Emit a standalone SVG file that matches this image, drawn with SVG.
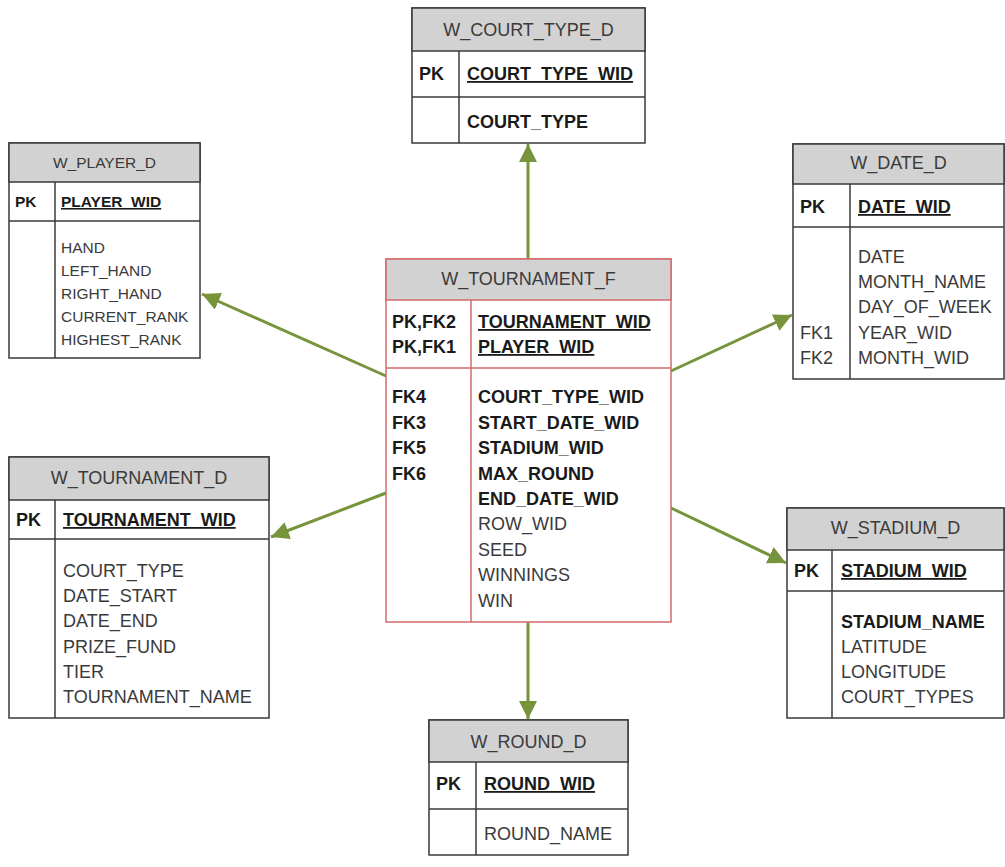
<svg xmlns="http://www.w3.org/2000/svg" width="1005" height="867" viewBox="0 0 1005 867">
<defs>
<style>
.box{fill:#fff;stroke:#3a3a3a;stroke-width:1.5}
.hdr{fill:#d2d2d2;stroke:#3a3a3a;stroke-width:1.5}
.fbox{fill:#fff;stroke:#d46a6a;stroke-width:1.5}
.fhdr{fill:#d2d2d2;stroke:#d46a6a;stroke-width:1.5}
.ln{stroke:#3a3a3a;stroke-width:1.5;fill:none}
.fln{stroke:#d46a6a;stroke-width:1.5;fill:none}
text{font-family:"Liberation Sans",Arial,sans-serif;font-size:18px;fill:#3a3a3a}
.t{text-anchor:middle}
.b{font-weight:bold;fill:#1a1a1a}
.u{text-decoration:underline}
.s{font-size:15.5px}
.conn{stroke:#77933c;stroke-width:3;fill:none}
</style>
<marker id="ah" markerUnits="userSpaceOnUse" markerWidth="20" markerHeight="18" refX="18" refY="9" orient="auto">
<path d="M0,0 L18,9 L0,18 Z" fill="#77933c"/>
</marker>
</defs>

<g id="connectors">
<line class="conn" x1="528" y1="259" x2="528" y2="144" marker-end="url(#ah)"/>
<line class="conn" x1="386" y1="376" x2="202" y2="294" marker-end="url(#ah)"/>
<line class="conn" x1="386" y1="493" x2="271" y2="537" marker-end="url(#ah)"/>
<line class="conn" x1="671" y1="371" x2="792" y2="315" marker-end="url(#ah)"/>
<line class="conn" x1="671" y1="508" x2="786" y2="563" marker-end="url(#ah)"/>
<line class="conn" x1="528" y1="622" x2="528" y2="719" marker-end="url(#ah)"/>
</g>

<g id="w_tournament_f">
<rect class="fbox" x="386" y="259" width="285" height="363"/>
<rect class="fhdr" x="386" y="259" width="285" height="41"/>
<line class="fln" x1="386" y1="368" x2="671" y2="368"/>
<line class="fln" x1="471" y1="300" x2="471" y2="622"/>
<text class="t" x="528.5" y="285">W_TOURNAMENT_F</text>
<text class="b" x="392" y="328">PK,FK2</text>
<text class="b" x="392" y="353">PK,FK1</text>
<text class="b u" x="478" y="328">TOURNAMENT_WID</text>
<text class="b u" x="478" y="353">PLAYER_WID</text>
<text class="b" x="392" y="403">FK4</text>
<text class="b" x="392" y="429">FK3</text>
<text class="b" x="392" y="454">FK5</text>
<text class="b" x="392" y="480">FK6</text>
<text class="b" x="478" y="403">COURT_TYPE_WID</text>
<text class="b" x="478" y="429">START_DATE_WID</text>
<text class="b" x="478" y="454">STADIUM_WID</text>
<text class="b" x="478" y="480">MAX_ROUND</text>
<text class="b" x="478" y="505">END_DATE_WID</text>
<text x="478" y="530">ROW_WID</text>
<text x="478" y="556">SEED</text>
<text x="478" y="581">WINNINGS</text>
<text x="478" y="607">WIN</text>
</g>

<g id="w_court_type_d">
<rect class="box" x="412" y="8" width="233" height="135"/>
<rect class="hdr" x="412" y="8" width="233" height="43"/>
<line class="ln" x1="412" y1="97" x2="645" y2="97"/>
<line class="ln" x1="459" y1="51" x2="459" y2="143"/>
<text class="t" x="528.5" y="36">W_COURT_TYPE_D</text>
<text class="b" x="419" y="80">PK</text>
<text class="b u" x="467" y="80">COURT_TYPE_WID</text>
<text class="b" x="467" y="128">COURT_TYPE</text>
</g>

<g id="w_player_d">
<rect class="box" x="9" y="143" width="191" height="215"/>
<rect class="hdr" x="9" y="143" width="191" height="39"/>
<line class="ln" x1="9" y1="221" x2="200" y2="221"/>
<line class="ln" x1="55" y1="182" x2="55" y2="358"/>
<text class="t s" x="104.5" y="168">W_PLAYER_D</text>
<text class="b s" x="15" y="207">PK</text>
<text class="b u s" x="61" y="207">PLAYER_WID</text>
<text class="s" x="61" y="253">HAND</text>
<text class="s" x="61" y="276">LEFT_HAND</text>
<text class="s" x="61" y="299">RIGHT_HAND</text>
<text class="s" x="61" y="322">CURRENT_RANK</text>
<text class="s" x="61" y="345">HIGHEST_RANK</text>
</g>

<g id="w_date_d">
<rect class="box" x="793" y="144" width="211" height="235"/>
<rect class="hdr" x="793" y="144" width="211" height="40"/>
<line class="ln" x1="793" y1="227" x2="1004" y2="227"/>
<line class="ln" x1="850" y1="184" x2="850" y2="379"/>
<text class="t" x="898.5" y="169">W_DATE_D</text>
<text class="b" x="800" y="213">PK</text>
<text class="b u" x="858" y="213">DATE_WID</text>
<text x="858" y="263">DATE</text>
<text x="858" y="288">MONTH_NAME</text>
<text x="858" y="313">DAY_OF_WEEK</text>
<text x="800" y="339">FK1</text>
<text x="858" y="339">YEAR_WID</text>
<text x="800" y="364">FK2</text>
<text x="858" y="364">MONTH_WID</text>
</g>

<g id="w_tournament_d">
<rect class="box" x="9" y="457" width="260" height="261"/>
<rect class="hdr" x="9" y="457" width="260" height="43"/>
<line class="ln" x1="9" y1="539" x2="269" y2="539"/>
<line class="ln" x1="55" y1="500" x2="55" y2="718"/>
<text class="t" x="139" y="484">W_TOURNAMENT_D</text>
<text class="b" x="16" y="526">PK</text>
<text class="b u" x="63" y="526">TOURNAMENT_WID</text>
<text x="63" y="577">COURT_TYPE</text>
<text x="63" y="602">DATE_START</text>
<text x="63" y="627">DATE_END</text>
<text x="63" y="653">PRIZE_FUND</text>
<text x="63" y="678">TIER</text>
<text x="63" y="703">TOURNAMENT_NAME</text>
</g>

<g id="w_stadium_d">
<rect class="box" x="787" y="508" width="217" height="210"/>
<rect class="hdr" x="787" y="508" width="217" height="42"/>
<line class="ln" x1="787" y1="591" x2="1004" y2="591"/>
<line class="ln" x1="832" y1="550" x2="832" y2="718"/>
<text class="t" x="895.5" y="534">W_STADIUM_D</text>
<text class="b" x="794" y="577">PK</text>
<text class="b u" x="841" y="577">STADIUM_WID</text>
<text class="b" x="841" y="628">STADIUM_NAME</text>
<text x="841" y="653">LATITUDE</text>
<text x="841" y="678">LONGITUDE</text>
<text x="841" y="703">COURT_TYPES</text>
</g>

<g id="w_round_d">
<rect class="box" x="429" y="720" width="199" height="135"/>
<rect class="hdr" x="429" y="720" width="199" height="42"/>
<line class="ln" x1="429" y1="809" x2="628" y2="809"/>
<line class="ln" x1="476" y1="762" x2="476" y2="855"/>
<text class="t" x="528.5" y="748">W_ROUND_D</text>
<text class="b" x="436" y="790">PK</text>
<text class="b u" x="484" y="790">ROUND_WID</text>
<text x="484" y="840">ROUND_NAME</text>
</g>
</svg>
